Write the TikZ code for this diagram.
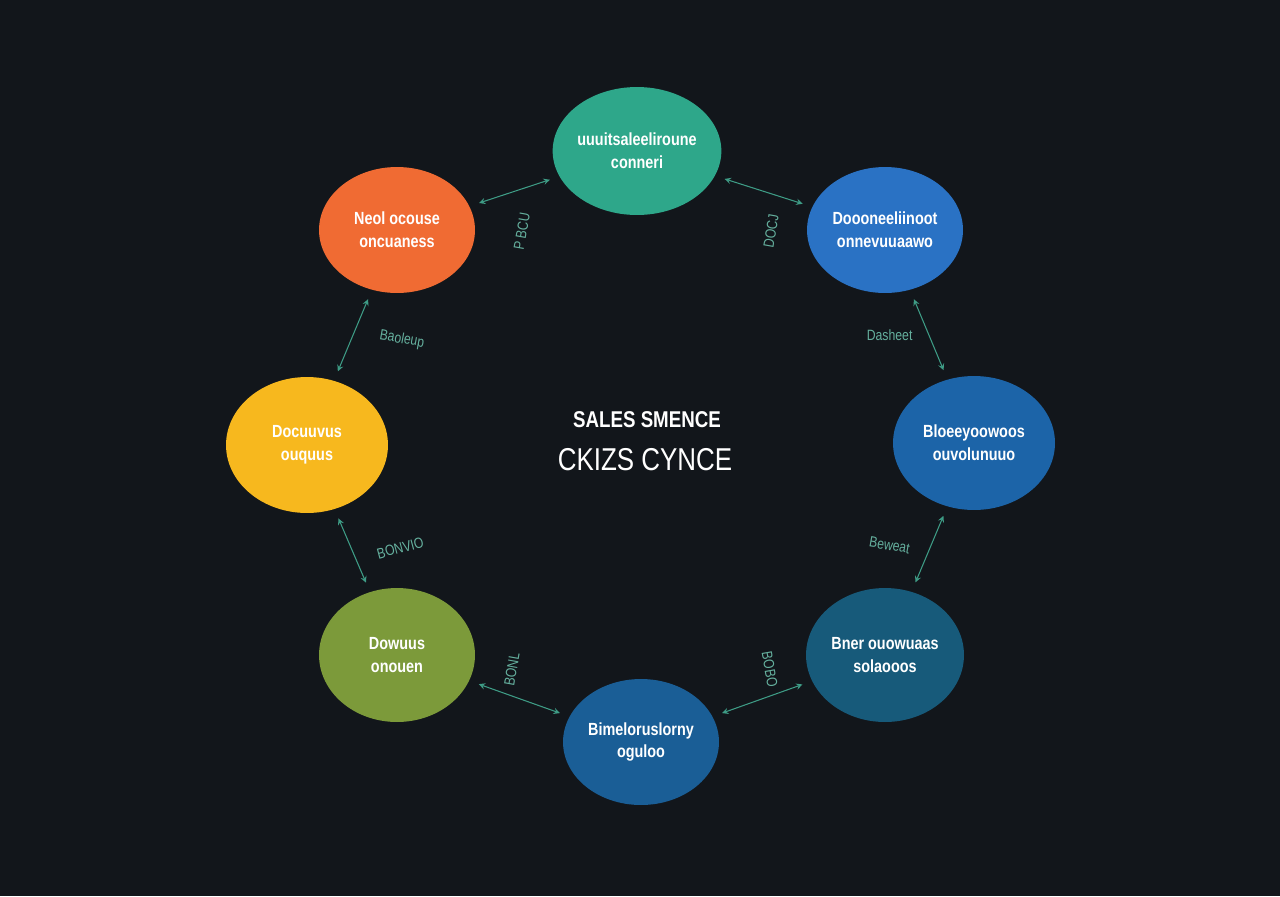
\documentclass[tikz,border=0pt]{standalone}
\usepackage{fontspec}
\setmainfont[FakeStretch=0.82]{Liberation Sans}
\usetikzlibrary{shapes.geometric,arrows}
\definecolor{bgcol}{HTML}{12161B}
\definecolor{cteal}{HTML}{2EA78A}
\definecolor{corange}{HTML}{F06B33}
\definecolor{cblueA}{HTML}{2A72C4}
\definecolor{cyellow}{HTML}{F7B81E}
\definecolor{cblueB}{HTML}{1C64A8}
\definecolor{cgreen}{HTML}{7C9A3A}
\definecolor{cblueC}{HTML}{1A5E96}
\definecolor{cdteal}{HTML}{175A7A}
\definecolor{linkcol}{HTML}{3E9C86}
\begin{document}
\begin{tikzpicture}[x=0.02cm,y=-0.02cm]
\tikzset{stage/.style={ellipse,text=white,align=center,font=\bfseries\fontsize{10}{13}\selectfont,
  minimum width=3.12cm,minimum height=2.52cm,inner sep=0pt}}
\tikzset{link/.style={<->,>=stealth,draw=linkcol,semithick,shorten >=0.2cm,shorten <=0.2cm}}
\tikzset{tag/.style={text=linkcol!80!white,font=\fontsize{8.5}{10}\selectfont,inner sep=1pt}}
\fill[bgcol] (0,0) rectangle (1280,896);
\useasboundingbox (0,0) rectangle (1280,896);
\node[stage,fill=cteal,minimum width=3.3cm,minimum height=2.56cm] (market) at (637,151) {uuuitsaleeliroune\\ conneri};
\node[stage,fill=corange] (lead) at (397,230) {Neol ocouse\\ oncuaness};
\node[stage,fill=cblueA] (demand) at (885,230) {Doooneeliinoot\\ onnevuuaawo};
\node[stage,fill=cyellow,minimum width=3.24cm,minimum height=2.72cm] (qualify) at (307,445) {Docuuvus\\ ouquus};
\node[stage,fill=cblueB,minimum width=3.24cm,minimum height=2.68cm] (pipeline) at (974,443) {Bloeeyoowoos\\ ouvolunuuo};
\node[stage,fill=cgreen,minimum height=2.68cm] (nurture) at (397,655) {Dowuus\\ onouen};
\node[stage,fill=cblueC] (close) at (641,742) {Bimeloruslorny\\ oguloo};
\node[stage,fill=cdteal,minimum width=3.16cm,minimum height=2.68cm] (retain) at (885,655) {Bner ouowuaas\\ solaooos};
\node[text=white,font=\bfseries\fontsize{13}{15}\selectfont] (title) at (647,420) {SALES SMENCE};
\node[text=white,font=\fontsize{18}{22}\selectfont] (title2) at (645,460) {CKIZS CYNCE};
% links between stages
\draw[link] (lead) -- (market) node[tag,pos=0.5,below=22pt,rotate=80] {P BCU};
\draw[link] (market) -- (demand) node[tag,pos=0.5,below=22pt,rotate=80] {DOCJ};
\draw[link] (demand) -- (pipeline) node[tag,pos=0.5,left=8pt] {Dasheet};
\draw[link] (lead) -- (qualify) node[tag,pos=0.5,right=14pt,rotate=-10] {Baoleup};
\draw[link] (qualify) -- (nurture) node[tag,pos=0.55,right=12pt,rotate=15] {BONVIO};
\draw[link] (nurture) -- (close) node[tag,pos=0.5,above=16pt,rotate=80] {BONL};
\draw[link] (close) -- (retain) node[tag,pos=0.5,above=16pt,rotate=-80] {BOBO};
\draw[link] (retain) -- (pipeline) node[tag,pos=0.5,left=10pt,rotate=-10] {Beweat};
\end{tikzpicture}
\end{document}
